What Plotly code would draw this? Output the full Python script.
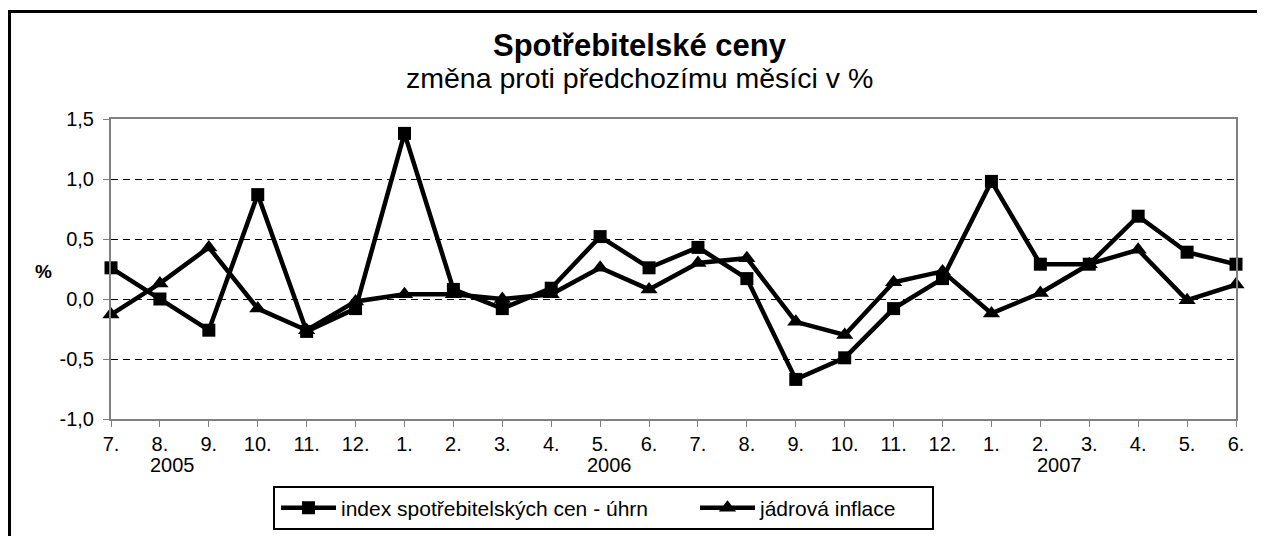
import plotly.graph_objects as go

months = ["7.", "8.", "9.", "10.", "11.", "12.", "1.", "2.", "3.", "4.", "5.", "6.",
          "7.", "8.", "9.", "10.", "11.", "12.", "1.", "2.", "3.", "4.", "5.", "6."]
years = ["2005", "2006", "2007"]
year_pos = [1.25, 10.2, 19.4]
y_ticks = [-1.0, -0.5, 0.0, 0.5, 1.0, 1.5]

cpi = [0.26, 0.00, -0.26, 0.87, -0.27, -0.08, 1.38, 0.08, -0.08, 0.09, 0.52, 0.26,
       0.43, 0.17, -0.67, -0.49, -0.08, 0.17, 0.98, 0.29, 0.29, 0.69, 0.39, 0.29]
core = [-0.13, 0.13, 0.43, -0.08, -0.26, -0.02, 0.04, 0.04, 0.00, 0.04, 0.26, 0.08,
        0.30, 0.34, -0.19, -0.30, 0.14, 0.23, -0.12, 0.05, 0.29, 0.41, -0.01, 0.12]

series_names = ["index spotřebitelských cen - úhrn", "jádrová inflace"]
title_text = "Spotřebitelské ceny"
subtitle_text = "změna proti předchozímu měsíci v %"

FONT = "Liberation Sans, Arial, sans-serif"
xs = list(range(len(months)))
y_ticktext = [("%.1f" % v).replace(".", ",") for v in y_ticks]

fig = go.Figure()
fig.add_trace(go.Scatter(
    x=xs, y=cpi, name=series_names[0], mode="lines+markers",
    line=dict(color="black", width=4.5),
    marker=dict(symbol="square", size=13, color="black"),
    cliponaxis=False, legend="legend",
))
fig.add_trace(go.Scatter(
    x=xs, y=core, name=series_names[1], mode="lines+markers",
    line=dict(color="black", width=4.5),
    marker=dict(symbol="triangle-up", size=15, color="black"),
    cliponaxis=False, legend="legend2",
))

# page body has an 8px margin: figure origin is at (8, 8) in the screenshot
OFF = 8
W, H = 1257, 528
PL, PR, PT, PB = 111, 1236, 119, 419   # plot area in screenshot pixels
L = PL - OFF
T = PT - OFF
R = (W + OFF) - PR
B = (H + OFF) - PB
pw = PR - PL
ph = PB - PT

def px_x(p):
    return (p - PL) / pw

def px_y(p):
    return (PB - p) / ph

leg_common = dict(
    orientation="h", xref="paper", yref="paper", xanchor="left",
    yanchor="middle", y=px_y(508), borderwidth=0, bgcolor="rgba(0,0,0,0)",
    font=dict(size=21), itemwidth=55,
)

fig.update_layout(
    width=W, height=H,
    margin=dict(l=L, r=R, t=T, b=B, pad=0, autoexpand=False),
    paper_bgcolor="white", plot_bgcolor="white",
    font=dict(family=FONT, size=20, color="black"),
    showlegend=True,
    legend=dict(x=px_x(276), **leg_common),
    legend2=dict(x=px_x(695), **leg_common),
    xaxis=dict(
        range=[0, 23], tickmode="array", tickvals=xs, ticktext=months,
        showgrid=False, zeroline=False,
        showline=True, linecolor="#808080", linewidth=2, mirror=True,
        ticks="outside", ticklen=6, tickcolor="#808080", tickwidth=1,
        tickfont=dict(size=20),
    ),
    yaxis=dict(
        range=[-1, 1.5], tickmode="array", tickvals=y_ticks, ticktext=y_ticktext,
        showgrid=True, gridcolor="black", gridwidth=1, griddash="7px,5px",
        zeroline=False,
        showline=True, linecolor="#808080", linewidth=2, mirror=True,
        ticks="outside", ticklen=6, tickcolor="#808080", tickwidth=1,
        tickfont=dict(size=20), ticklabelstandoff=5,
    ),
    annotations=[
        dict(text="<b>" + title_text + "</b>", xref="paper", yref="paper",
             x=px_x(640), y=px_y(46), xanchor="center", yanchor="middle",
             showarrow=False, font=dict(size=31, family=FONT)),
        dict(text=subtitle_text, xref="paper", yref="paper",
             x=px_x(639), y=px_y(78), xanchor="center", yanchor="middle",
             showarrow=False, font=dict(size=28.5, family=FONT)),
        dict(text="<b>%</b>", xref="paper", yref="paper",
             x=px_x(43), y=px_y(271), xanchor="center", yanchor="middle",
             showarrow=False, font=dict(size=19, family=FONT)),
    ] + [
        dict(text=yr, xref="x", yref="paper", x=p, y=px_y(465),
             xanchor="center", yanchor="middle", showarrow=False,
             font=dict(size=20, family=FONT))
        for yr, p in zip(years, year_pos)
    ],
    shapes=[
        dict(type="rect", xref="paper", yref="paper",
             x0=px_x(9.5), x1=px_x(1275), y0=px_y(550), y1=px_y(11.5),
             line=dict(color="black", width=3), fillcolor="rgba(0,0,0,0)",
             layer="below"),
        dict(type="rect", xref="paper", yref="paper",
             x0=px_x(274), x1=px_x(933), y0=px_y(529), y1=px_y(487),
             line=dict(color="black", width=2), fillcolor="white",
             layer="below"),
    ],
)

fig.write_html("out.html")
